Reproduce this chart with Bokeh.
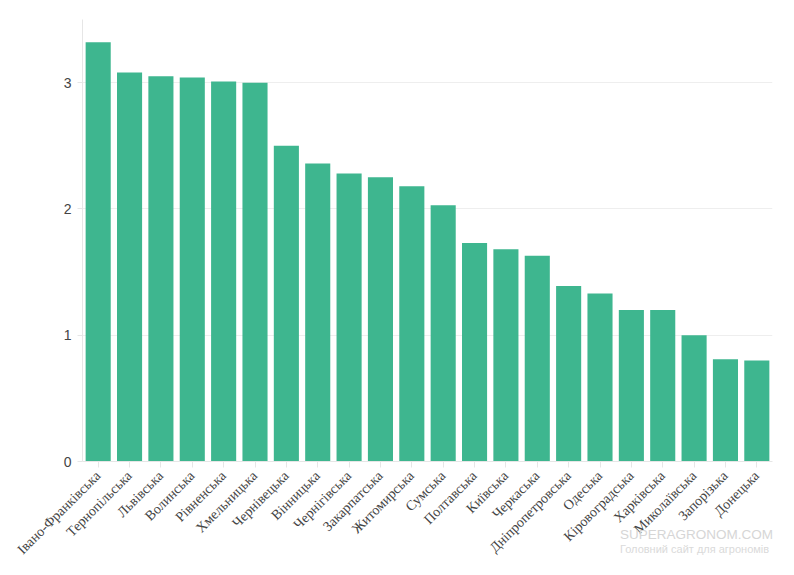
from bokeh.plotting import figure
from bokeh.models import ColumnDataSource, Range1d, FixedTicker, Div
from bokeh.layouts import column
from bokeh.embed import file_html
from bokeh.resources import INLINE
import math

regions = ["Івано-Франківська", "Тернопільська", "Львівська", "Волинська", "Рівненська",
           "Хмельницька", "Чернівецька", "Вінницька", "Чернігівська", "Закарпатська",
           "Житомирська", "Сумська", "Полтавська", "Київська", "Черкаська",
           "Дніпропетровська", "Одеська", "Кіровоградська", "Харківська", "Миколаївська",
           "Запорізька", "Донецька"]
values = [3.32, 3.08, 3.05, 3.04, 3.01, 3.00, 2.50, 2.36, 2.28, 2.25, 2.18, 2.03,
          1.73, 1.68, 1.63, 1.39, 1.33, 1.20, 1.20, 1.00, 0.81, 0.80]
y_ticks = [0, 1, 2, 3]
watermark = ["SUPERAGRONOM.COM", "Головний сайт для агрономів"]

src = ColumnDataSource(dict(region=regions, value=values))

p = figure(x_range=regions, width=778, height=565, output_backend="svg",
           toolbar_location=None, min_border_left=82, min_border_right=6,
           min_border_top=19, min_border_bottom=103)
p.y_range = Range1d(0, 3.5)
p.vbar(x="region", top="value", width=0.8, source=src, color="#3eb68f", line_color=None)

p.outline_line_color = None
p.xgrid.grid_line_color = None
p.ygrid.grid_line_color = "#eeeeee"
p.ygrid.ticker = FixedTicker(ticks=y_ticks)

p.yaxis.ticker = FixedTicker(ticks=y_ticks)
p.yaxis.axis_line_color = "#e6e6e6"
p.yaxis.major_tick_line_color = "#e6e6e6"
p.yaxis.major_tick_out = 5
p.yaxis.major_tick_in = 0
p.yaxis.minor_tick_line_color = None
p.yaxis.major_label_text_font = "Liberation Sans"
p.yaxis.major_label_text_font_size = "14px"
p.yaxis.major_label_text_color = "#444444"
p.yaxis.major_label_standoff = 6

p.xaxis.axis_line_color = "#e6e6e6"
p.xaxis.major_tick_line_color = "#e6e6e6"
p.xaxis.major_tick_out = 6
p.xaxis.major_tick_in = 0
p.xaxis.major_label_orientation = math.pi / 4
p.xaxis.major_label_text_font = "Liberation Serif"
p.xaxis.major_label_text_font_size = "14px"
p.xaxis.major_label_text_color = "#444444"
p.xaxis.major_label_standoff = 6

wm = Div(text=('<div style="color:#d6d6d6;font-family:\'Liberation Sans\';font-size:13.5px;'
               'line-height:16px;white-space:nowrap">%s</div>'
               '<div style="color:#dadada;font-family:\'Liberation Sans\';font-size:11px;'
               'line-height:12px;white-space:nowrap">%s</div>') % tuple(watermark),
         width=155, height=30, margin=(-38, 0, 0, 620))

layout = column(p, wm, spacing=0)

open("out.html", "w").write(file_html(layout, INLINE))
